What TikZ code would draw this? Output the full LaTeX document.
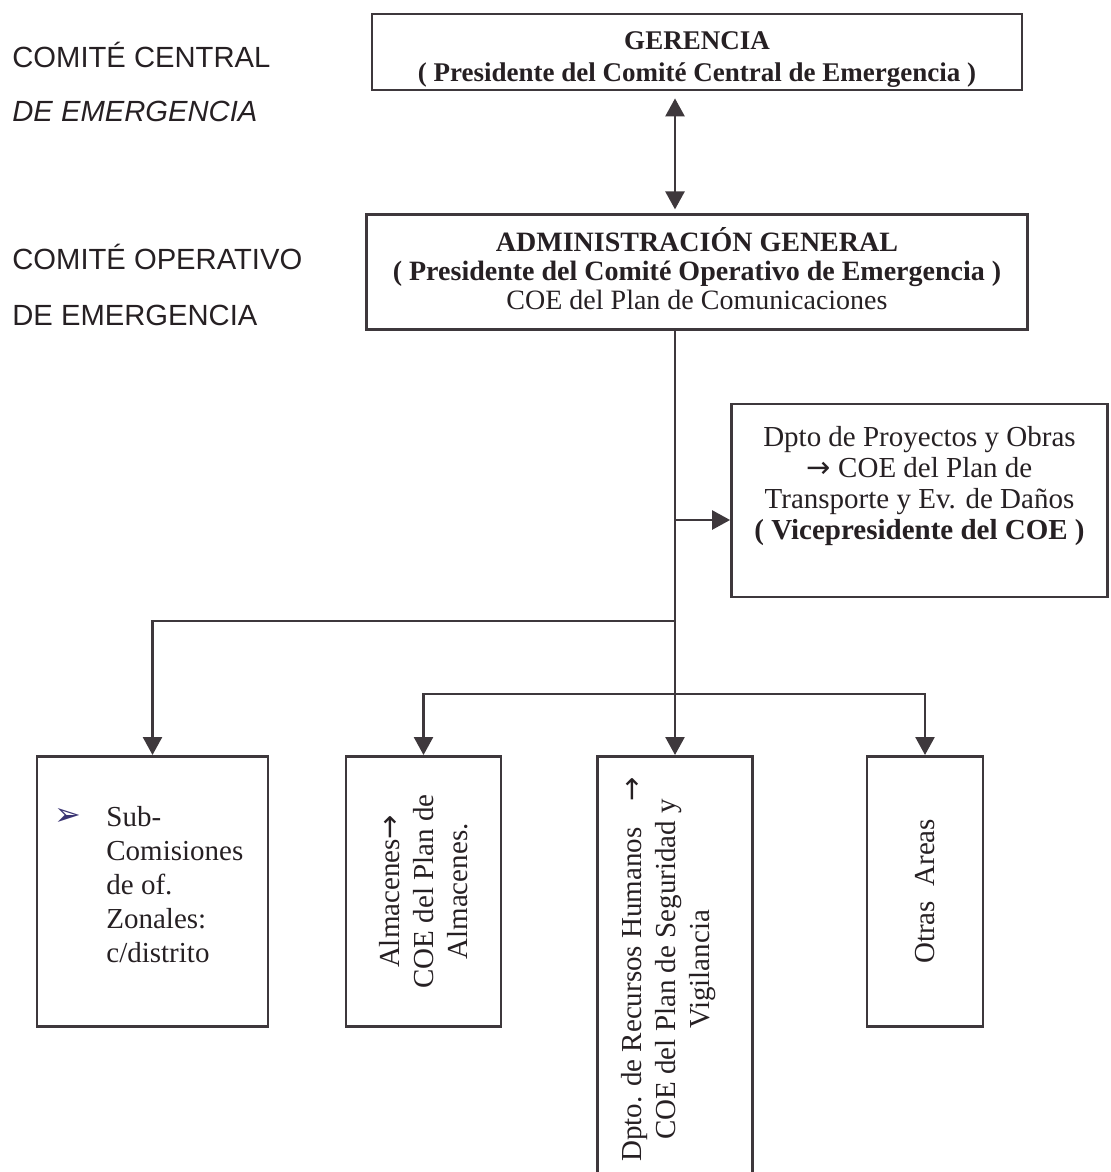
\documentclass[tikz,border=0pt]{standalone}
\usepackage{fontspec}
\setmainfont{Liberation Serif}
\setsansfont{Liberation Sans}
\newfontfamily\arrowfont{DejaVu Sans}
\usetikzlibrary{arrows.meta,positioning}
\definecolor{linegray}{RGB}{62,56,60}
\definecolor{inkblack}{RGB}{38,32,35}
\definecolor{bulletblue}{RGB}{58,52,115}
\newcommand{\toarrow}{{\arrowfont →}}
\tikzset{
  orgbox/.style={
    draw=linegray,
    line width=1.4pt,
    inner sep=0pt,
    align=center,
    text=inkblack
  },
  bodytext/.style={inner sep=0pt, align=center, text=inkblack, font=\fontsize{14.5}{15.5}\selectfont},
  sidetext/.style={inner sep=0pt, anchor=base west, text=inkblack, font=\sffamily\fontsize{14.6}{16}\selectfont},
  vertext/.style={bodytext, rotate=90, font=\fontsize{14.5}{17}\selectfont},
  orgarrow/.style={-{Triangle[length=9pt,width=9.5pt]}, line width=1.3pt, draw=linegray},
  orgdouble/.style={{Triangle[length=9pt,width=9.5pt]}-{Triangle[length=9pt,width=9.5pt]}, line width=1.3pt, draw=linegray}
}
\begin{document}
\begin{tikzpicture}[x=0.5pt,y=-0.5pt]
    \useasboundingbox (0,0) rectangle (1110,1172);
    \clip (0,0) rectangle (1110,1172);

    % level labels
    \node[sidetext] (ccen) at (12,68) {COMITÉ CENTRAL};
    \node[sidetext, font=\sffamily\itshape\fontsize{14.6}{16}\selectfont] (ccenb) at (12,122) {DE EMERGENCIA};
    \node[sidetext] (cope) at (12,269) {COMITÉ OPERATIVO};
    \node[sidetext] (copeb) at (12,325) {DE EMERGENCIA};

    \node[orgbox, minimum width=325pt, minimum height=38pt] (ger) at (697,52) {};
    \node[bodytext, font=\bfseries\fontsize{13.5}{16}\selectfont] (gertxt) at ([yshift=-4pt]ger.center) {GERENCIA\\( Presidente del Comité Central de Emergencia )};
    \node[orgbox, below=61pt of ger, minimum width=330.5pt, minimum height=57.5pt] (adm) {};
    \node[bodytext, font=\fontsize{14}{14.5}\selectfont] (admtxt) at ([yshift=2pt]adm.center) {\textbf{ADMINISTRACIÓN GENERAL}\\\textbf{( Presidente del Comité Operativo de Emergencia )}\\COE del Plan de Comunicaciones};

    \coordinate (trk) at (675,0);

    \node[orgbox, minimum width=188pt, minimum height=96.5pt] (proy) at (919.5,500.5) {};
    \node[bodytext] (proytxt) at ([yshift=7pt]proy.center) {Dpto de Proyectos y Obras\\\toarrow{} COE del Plan de\\Transporte y Ev. de Daños\\\textbf{( Vicepresidente del COE )}};

    % bottom row
    \node[orgbox, anchor=north, minimum width=115.5pt, minimum height=135pt] (sub) at (152.5,755) {};
    \node[orgbox, anchor=north, minimum width=77.5pt, minimum height=135pt] (alm) at (423.5,755) {};
    \node[orgbox, anchor=north, minimum width=77.5pt, minimum height=213pt] (rrhh) at (675,755) {};
    \node[orgbox, anchor=north, minimum width=58pt, minimum height=135pt] (otr) at (925,755) {};

    \node[text=bulletblue, font=\arrowfont\fontsize{16}{16}\selectfont, inner sep=0pt] (subbul) at (68,817) {➢};
    \node[bodytext, align=left, anchor=north west, font=\fontsize{14.5}{17}\selectfont] (subtxt) at (106,806) {Sub-\\Comisiones\\de of.\\Zonales:\\c/distrito};
    \node[vertext] (almtxt) at (alm.center) {Almacenes\toarrow\\COE del Plan de\\Almacenes.};
    \node[vertext] (rrhhtxt) at ([xshift=-3pt]rrhh.center) {Dpto. de Recursos Humanos\hspace{13pt}\toarrow\\COE del Plan de Seguridad y\\Vigilancia};
    \node[vertext] (otrtxt) at (otr.center) {Otras~ Areas};

    \coordinate (jproy) at (675,520);
    \coordinate (jsub) at (675,621);
    \coordinate (jrow) at (675,694);

    \draw[orgdouble, shorten <=3.5pt, shorten >=2pt] (ger.south -| trk) -- (adm.north -| trk);
    \draw[orgarrow] (adm.south -| trk) -- (rrhh.north);
    \draw[orgarrow] (jproy) -- (jproy -| proy.west);
    \draw[orgarrow] (jsub) -| (sub.north);
    \draw[orgarrow] (jrow) -| (alm.north);
    \draw[orgarrow] (jrow) -| (otr.north);
  \end{tikzpicture}
\end{document}
